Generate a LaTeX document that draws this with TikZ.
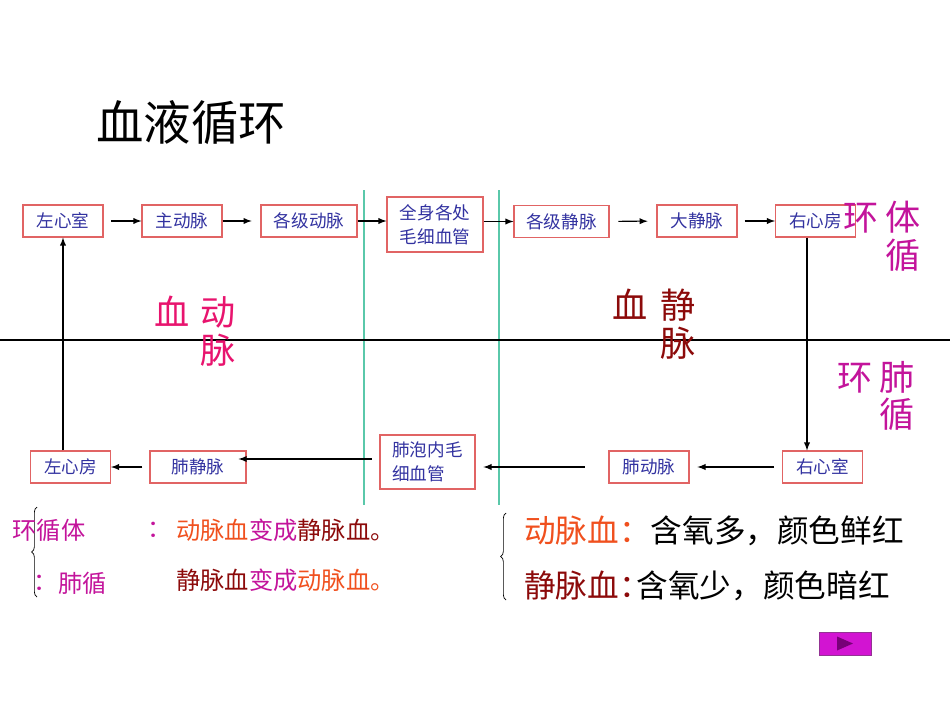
\documentclass[tikz,border=0pt]{standalone}
\usepackage{fontspec}
\setmainfont{Noto Sans CJK SC}
\usetikzlibrary{arrows, decorations.pathreplacing}
\definecolor{boxred}{RGB}{225,100,100}
\definecolor{boxblue}{RGB}{50,50,160}
\definecolor{capteal}{RGB}{90,200,170}
\definecolor{artpink}{RGB}{232,20,110}
\definecolor{veinred}{RGB}{140,10,10}
\definecolor{circmag}{RGB}{195,20,155}
\definecolor{artorange}{RGB}{240,80,30}
\definecolor{btnmag}{RGB}{210,20,210}
\definecolor{btndark}{RGB}{120,0,120}
\tikzstyle{organ} = [rectangle, draw=boxred, line width=0.6pt, minimum width=1.6cm, minimum height=0.64cm, inner sep=1pt, text centered, text=boxblue, font=\fontsize{10}{13.5}\selectfont]
\tikzstyle{capillary} = [organ, minimum width=1.92cm, minimum height=1.1cm, align=left]
\tikzstyle{arrow} = [line width=0.6pt,->,>=latex]
\tikzstyle{divider} = [capteal, line width=0.8pt]
\tikzstyle{bigword} = [font=\fontsize{20}{21.5}\selectfont, align=right, inner sep=0pt]
\tikzstyle{note} = [font=\fontsize{13.8}{16}\selectfont, inner sep=0pt]
\tikzstyle{fact} = [font=\fontsize{18}{20}\selectfont, inner sep=0pt, anchor=west]

\begin{document}
\begin{tikzpicture}[x=0.02cm, y=-0.02cm]
    \useasboundingbox (0,0) rectangle (950,713);
    \node [font=\fontsize{27}{30}\selectfont] at (191,123) (title) {血液循环};

    % body circulation
    \node [organ] at (63,221) (lv) {左心室};
    \node [organ] at (182,221) (aorta) {主动脉};
    \node [organ, minimum width=1.92cm] at (309,221) (arteries) {各级动脉};
    \node [capillary] at (435,224.5) (bodycap) {全身各处\\毛细血管};
    \node [organ, minimum width=1.9cm] at (561.5,221.5) (veins) {各级静脉};
    \node [organ] at (697,221) (cava) {大静脉};
    \node [organ] at (815.5,221) (ra) {右心房};

    % lung circulation
    \node [organ] at (822.5,467) (rv) {右心室};
    \node [organ] at (649,467) (pa) {肺动脉};
    \node [capillary, minimum width=1.9cm, minimum height=1.08cm] at (427.5,462) (lungcap) {肺泡内毛\\细血管};
    \node [organ, minimum width=1.92cm] at (198,467) (pv) {肺静脉};
    \node [organ] at (70.5,467) (la) {左心房};

    \draw [divider] (364,190) -- (364,505);
    \draw [divider] (499,190) -- (499,505);
    \draw [line width=0.6pt] (0,340) -- (950,340);

    \draw [arrow, shorten <=4.5pt] (lv) -- (aorta);
    \draw [arrow, shorten >=5pt] (aorta) -- (arteries);
    \draw [arrow] (arteries.east) -- (arteries.east -| bodycap.west);
    \draw [arrow] (veins.west -| bodycap.east) -- (veins.west);
    \draw [arrow, shorten <=5pt, shorten >=5pt] (veins) -- (cava);
    \draw [arrow, shorten <=4pt] (cava) -- (ra);
    \draw [arrow] ([xshift=-0.17cm]ra.south) -- ([xshift=-0.17cm]ra.south |- rv.north);
    \draw [arrow, shorten <=4.5pt, shorten >=4.5pt] (rv) -- (pa);
    \draw [arrow, shorten <=13.5pt, shorten >=4.5pt] (pa.west) -- (pa.west -| lungcap.east);
    \draw [arrow, shorten <=4.5pt, shorten >=-4.5pt] ([yshift=0.06cm]lungcap.west) -- ([yshift=0.06cm]lungcap.west -| pv.east);
    \draw [arrow, shorten <=4pt] (pv) -- (la);
    \draw [arrow] (la.north -| lv.south) -- (lv.south);

    \node [bigword, text=artpink] at (195,331) (artlabel) {血\hspace{0.3em}动\\脉};
    \node [bigword, text=veinred] at (654,324) (veinlabel) {血\hspace{0.35em}静\\脉};
    \node [bigword, text=circmag] at (882,236) (syslabel) {环\hspace{0.2em}体\\循};
    \node [bigword, text=circmag] at (876,396) (pullabel) {环\hspace{0.2em}肺\\循};

    % blood changes
    \draw [decorate, decoration={brace, amplitude=3pt}] (37,597) -- (37,507);
    \node [note, text=circmag] at (49,530) (sysname) {环循体};
    \node [note, text=circmag] at (160,530) (colona) {：};
    \node [note, anchor=west] at (176,530) (change1) {\textcolor{artorange}{动脉血}\textcolor{circmag}{变成}\textcolor{veinred}{静脉血。}};
    \node [note, text=circmag] at (46,583) (colonb) {：};
    \node [note, text=circmag] at (83,583) (pulname) {肺循};
    \node [note, anchor=west] at (176,580) (change2) {\textcolor{veinred}{静脉血}\textcolor{circmag}{变成}\textcolor{artorange}{动脉血。}};

    \draw [decorate, decoration={brace, amplitude=3pt}] (506,600) -- (506,513);
    \node [fact] at (524,531) (arterial) {\textcolor{artorange}{动脉血：}含氧多，颜色鲜红};
    \node [fact] at (524,586) (venous) {\textcolor{veinred}{静脉血：}\hspace{-0.45em}含氧少，颜色暗红};

    \node [rectangle, fill=btnmag, draw=btndark!80, minimum width=1.04cm, minimum height=0.46cm] at (845,643.5) (next) {};
    \fill [btndark] ([xshift=-0.16cm, yshift=0.14cm]next.center) -- ([xshift=0.16cm]next.center) -- ([xshift=-0.16cm, yshift=-0.14cm]next.center) -- cycle;
\end{tikzpicture}
\end{document}
